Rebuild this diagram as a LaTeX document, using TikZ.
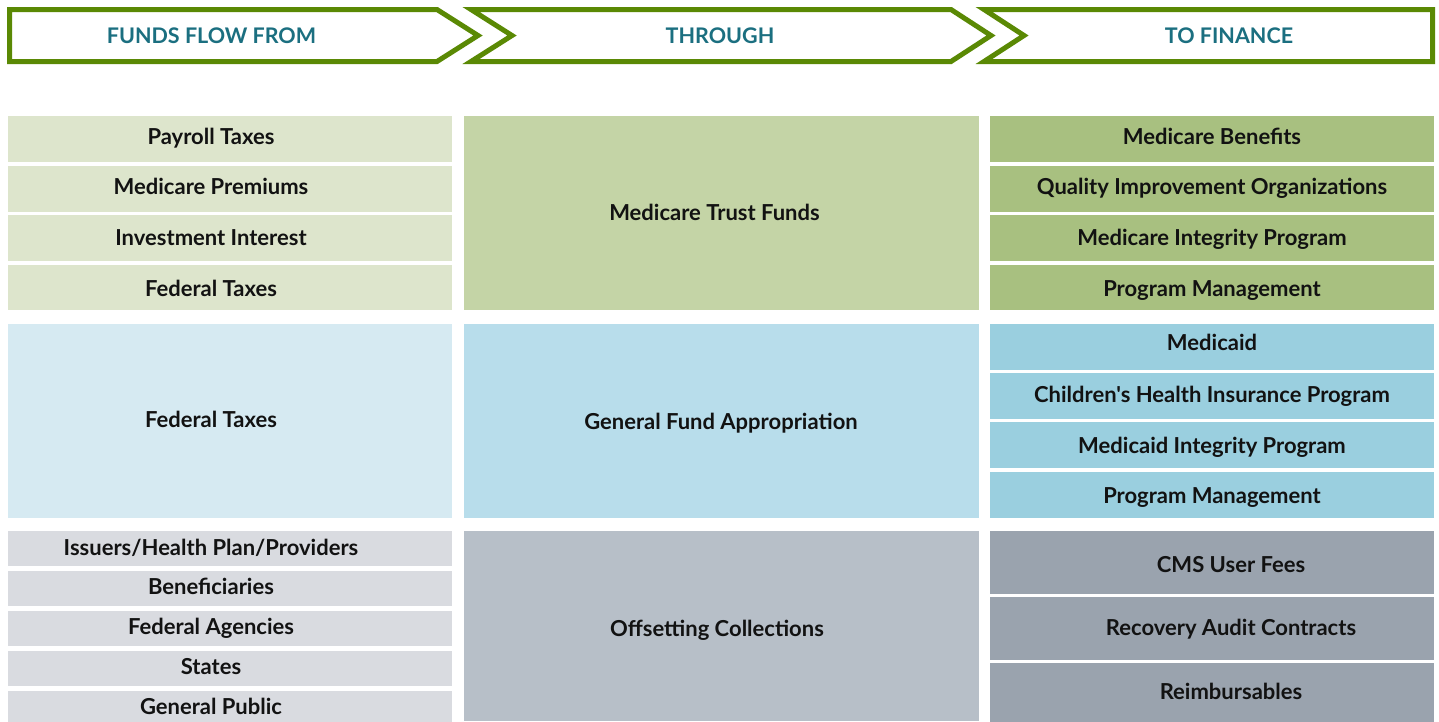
\documentclass[tikz,border=0pt]{standalone}
\usepackage{fontspec}
\setmainfont{Lato}[Ligatures=TeXOff]
\begin{document}
\definecolor{hdrgreen}{HTML}{5A8904}
\definecolor{hdrtext}{HTML}{1B6F80}
\definecolor{gA}{HTML}{DDE5CC}
\definecolor{gB}{HTML}{C4D4A6}
\definecolor{gC}{HTML}{A8C080}
\definecolor{bA}{HTML}{D6EAF2}
\definecolor{bB}{HTML}{B8DDEB}
\definecolor{bC}{HTML}{9ACFDF}
\definecolor{sA}{HTML}{D9DBE0}
\definecolor{sB}{HTML}{B7BFC8}
\definecolor{sC}{HTML}{9AA3AE}
\tikzset{
  chevron/.style={draw=hdrgreen, line width=5pt, miter limit=20, fill=white},
  hdrlabel/.style={text=hdrtext, font=\fontsize{21.5}{26}\selectfont\bfseries, inner sep=0pt},
  cellbox/.style={draw=none, inner sep=0pt, outer sep=0pt, anchor=north west},
  celltext/.style={text=black!93, font=\fontsize{22}{26}\selectfont\bfseries,
    inner sep=0pt, text height=15.6pt, text depth=0pt},
}
% \cell{name}{x}{y}{w}{h}{fill}{text}{text x offset}{text y offset}
\newcommand{\cell}[9]{%
  \node[cellbox, fill=#6, minimum width=#4pt, minimum height=#5pt] (#1) at (#2,#3) {};
  \node[celltext] (#1-t) at ([xshift=#8pt, yshift=#9pt]#1.center) {#7};
}
\begin{tikzpicture}[x=1pt, y=-1pt]
\useasboundingbox (0,0) rectangle (1439,721);

% header chevrons
\draw[chevron] (9.5,9.5) -- (437,9.5) -- (478,35.5) -- (437,61.5) -- (9.5,61.5) -- cycle;
\draw[chevron] (471,9.5) -- (951,9.5) -- (991,35.5) -- (951,61.5) -- (471,61.5) -- (512,35.5) -- cycle;
\draw[chevron] (984,9.5) -- (1432.5,9.5) -- (1432.5,61.5) -- (984,61.5) -- (1024,35.5) -- cycle;
\node[hdrlabel] (h1) at (211.5,35.5) {FUNDS FLOW FROM};
\node[hdrlabel] (h2) at (720,35.5) {THROUGH};
\node[hdrlabel] (h3) at (1229,35.5) {TO FINANCE};

% Medicare group (y offsets point up, since yshift is in page direction)
\cell{a1}{8}{116}{444}{46}{gA}{Payroll Taxes}{-19}{2}
\cell{a2}{8}{165.5}{444}{46}{gA}{Medicare Premiums}{-19}{1.5}
\cell{a3}{8}{215}{444}{46}{gA}{Investment Interest}{-19}{0}
\cell{a4}{8}{264.5}{444}{45.5}{gA}{Federal Taxes}{-19}{-1.5}
\cell{am}{464}{116}{515}{194}{gB}{Medicare Trust Funds}{-7}{0}
\cell{ar1}{990}{116}{444}{46}{gC}{Medicare Benefits}{0}{2}
\cell{ar2}{990}{165.5}{444}{46}{gC}{Quality Improvement Organizations}{0}{1.5}
\cell{ar3}{990}{215}{444}{46}{gC}{Medicare Integrity Program}{0}{0}
\cell{ar4}{990}{264.5}{444}{45.5}{gC}{Program Management}{0}{-1.5}

% Medicaid group
\cell{b1}{8}{324}{444}{193.5}{bA}{Federal Taxes}{-19}{1}
\cell{bm}{464}{324}{515}{193.5}{bB}{General Fund Appropriation}{-0.5}{-1}
\cell{br1}{990}{324}{444}{46}{bC}{Medicaid}{0}{4}
\cell{br2}{990}{373}{444}{45.5}{bC}{Children's Health Insurance Program}{0}{1}
\cell{br3}{990}{422}{444}{45.5}{bC}{Medicaid Integrity Program}{0}{-1}
\cell{br4}{990}{471.5}{444}{46}{bC}{Program Management}{0}{-1.5}

% Offsetting collections group
\cell{c1}{8}{531}{444}{35}{sA}{Issuers/Health Plan/Providers}{-19}{1}
\cell{c2}{8}{571}{444}{35}{sA}{Beneficiaries}{-19}{2}
\cell{c3}{8}{611}{444}{35}{sA}{Federal Agencies}{-19}{1.5}
\cell{c4}{8}{651}{444}{35}{sA}{States}{-19}{1.5}
\cell{c5}{8}{691}{444}{35}{sA}{General Public}{-19}{1.5}
\cell{cm}{464}{531}{515}{190}{sB}{Offsetting Collections}{-4.5}{-3}
\cell{cr1}{990}{531}{444}{62.5}{sC}{CMS User Fees}{19}{-2}
\cell{cr2}{990}{597}{444}{62.5}{sC}{Recovery Audit Contracts}{19}{1}
\cell{cr3}{990}{663}{444}{62.5}{sC}{Reimbursables}{19}{3}
\end{tikzpicture}
\end{document}
